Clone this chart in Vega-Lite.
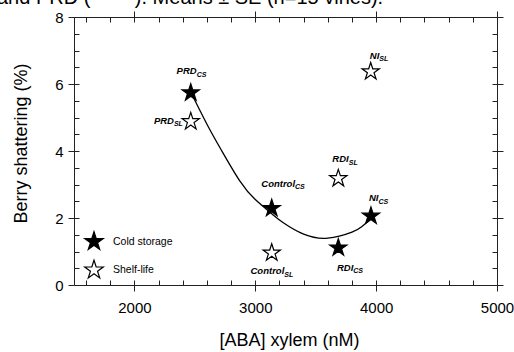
{
  "$schema": "https://vega.github.io/schema/vega-lite/v6.json",
  "width": 423,
  "height": 268,
  "autosize": {"type": "none"},
  "padding": {"left": 74, "top": 17, "right": 17, "bottom": 67},
  "background": "white",
  "title": {
    "text": "and PRD (\u00a0\u00a0\u00a0\u00a0\u00a0\u00a0\u00a0\u00a0). Means ± SE (n=15 vines).",
    "anchor": "start",
    "frame": "group",
    "offset": -14,
    "baseline": "alphabetic",
    "dx": -77,
    "fontSize": 20,
    "font": "Liberation Sans",
    "fontWeight": "normal",
    "color": "#000"
  },
  "datasets": {
    "curve": [
      {"aba": 2466, "shatter": 5.76},
      {"aba": 2600, "shatter": 4.8},
      {"aba": 2722, "shatter": 4.01},
      {"aba": 2873, "shatter": 3.1},
      {"aba": 3000, "shatter": 2.55},
      {"aba": 3136, "shatter": 2.13},
      {"aba": 3232, "shatter": 1.86},
      {"aba": 3400, "shatter": 1.52},
      {"aba": 3600, "shatter": 1.4},
      {"aba": 3800, "shatter": 1.58},
      {"aba": 3880, "shatter": 1.74},
      {"aba": 3957, "shatter": 1.97}
    ],
    "points": [
      {"treatment": "PRD", "storage": "Cold storage", "aba": 2466, "shatter": 5.74},
      {"treatment": "Control", "storage": "Cold storage", "aba": 3136, "shatter": 2.29},
      {"treatment": "RDI", "storage": "Cold storage", "aba": 3687, "shatter": 1.11},
      {"treatment": "NI", "storage": "Cold storage", "aba": 3957, "shatter": 2.06},
      {"treatment": "PRD", "storage": "Shelf-life", "aba": 2466, "shatter": 4.88},
      {"treatment": "Control", "storage": "Shelf-life", "aba": 3136, "shatter": 0.96},
      {"treatment": "RDI", "storage": "Shelf-life", "aba": 3687, "shatter": 3.18},
      {"treatment": "NI", "storage": "Shelf-life", "aba": 3955, "shatter": 6.37}
    ],
    "labels": [
      {"name": "PRD", "sub": "CS", "lx": 2515, "ly": 6.29},
      {"name": "PRD", "sub": "SL", "lx": 2327, "ly": 4.81},
      {"name": "NI", "sub": "SL", "lx": 4026, "ly": 6.75},
      {"name": "RDI", "sub": "SL", "lx": 3773, "ly": 3.67},
      {"name": "NI", "sub": "CS", "lx": 4019, "ly": 2.5},
      {"name": "Control", "sub": "CS", "lx": 3329, "ly": 2.93},
      {"name": "Control", "sub": "SL", "lx": 3240, "ly": 0.32},
      {"name": "RDI", "sub": "CS", "lx": 3811, "ly": 0.43}
    ]
  },
  "resolve": {"axis": {"x": "independent", "y": "independent"}},
  "layer": [
    {
      "data": {"name": "curve"},
      "mark": {"type": "line", "color": "#000", "strokeWidth": 1.3, "interpolate": "natural"},
      "encoding": {
        "x": {
          "field": "aba", "type": "quantitative",
          "scale": {"domain": [1500, 5000], "nice": false, "zero": false},
          "axis": {
            "orient": "bottom", "values": [2000, 3000, 4000, 5000], "format": "d",
            "tickSize": 6, "labelPadding": 9, "labelFlush": false,
            "title": "[ABA] xylem (nM)", "titleX": 215, "titleY": 60,
            "titleBaseline": "alphabetic", "titleAlign": "center", "titleAnchor": null
          }
        },
        "y": {
          "field": "shatter", "type": "quantitative",
          "scale": {"domain": [0, 8], "nice": false, "zero": false},
          "axis": {
            "orient": "left", "values": [0, 2, 4, 6, 8], "format": "d",
            "tickSize": 6, "labelPadding": 5, "labelFlush": false,
            "title": "Berry shattering (%)", "titleX": -48, "titleY": 126,
            "titleAngle": 270, "titleBaseline": "alphabetic", "titleAlign": "center", "titleAnchor": null
          }
        }
      }
    },
    {
      "data": {"name": "points"},
      "mark": {
        "type": "point",
        "shape": "M0,-1L0.2245,-0.309L0.9511,-0.309L0.3633,0.118L0.5878,0.809L0,0.382L-0.5878,0.809L-0.3633,0.118L-0.9511,-0.309L-0.2245,-0.309Z",
        "size": 330, "filled": true, "stroke": "#000", "strokeWidth": 1.2, "opacity": 1
      },
      "encoding": {
        "x": {
          "field": "aba", "type": "quantitative",
          "axis": {
            "orient": "bottom", "values": [1600, 1800, 2000, 2200, 2400, 2600, 2800, 3000, 3200, 3400, 3600, 3800, 4000, 4200, 4400, 4600, 4800, 5000],
            "tickSize": -5, "labels": false, "title": null
          }
        },
        "y": {
          "field": "shatter", "type": "quantitative",
          "axis": {
            "orient": "left", "values": [0.5, 1, 1.5, 2, 2.5, 3, 3.5, 4, 4.5, 5, 5.5, 6, 6.5, 7, 7.5, 8],
            "tickSize": -5, "labels": false, "title": null
          }
        },
        "fill": {
          "field": "storage", "type": "nominal",
          "scale": {"domain": ["Cold storage", "Shelf-life"], "range": ["#000", "#fff"]},
          "legend": {
            "orient": "none", "legendX": 9.5, "legendY": 214, "title": null,
            "symbolType": "M0,-1L0.2245,-0.309L0.9511,-0.309L0.3633,0.118L0.5878,0.809L0,0.382L-0.5878,0.809L-0.3633,0.118L-0.9511,-0.309L-0.2245,-0.309Z",
            "symbolSize": 380, "symbolStrokeColor": "#000", "symbolStrokeWidth": 1.2, "symbolOpacity": 1,
            "labelFont": "Liberation Sans", "labelFontSize": 10.5, "labelColor": "#000",
            "labelOffset": 8.5, "rowPadding": 5.5, "padding": 0
          }
        }
      }
    },
    {
      "data": {"name": "labels"},
      "mark": {"type": "text", "align": "right", "baseline": "alphabetic", "font": "Liberation Sans", "fontSize": 9.5, "fontWeight": "bold", "fontStyle": "italic", "color": "#000"},
      "encoding": {
        "x": {
          "field": "lx", "type": "quantitative",
          "axis": {
            "orient": "top", "values": [1600, 1800, 2000, 2200, 2400, 2600, 2800, 3000, 3200, 3400, 3600, 3800, 4000, 4200, 4400, 4600, 4800, 5000],
            "tickSize": -5, "labels": false, "title": null
          }
        },
        "y": {
          "field": "ly", "type": "quantitative",
          "axis": {
            "orient": "right", "values": [0.5, 1, 1.5, 2, 2.5, 3, 3.5, 4, 4.5, 5, 5.5, 6, 6.5, 7, 7.5, 8],
            "tickSize": -5, "labels": false, "title": null
          }
        },
        "text": {"field": "name"}
      }
    },
    {
      "data": {"name": "labels"},
      "mark": {"type": "text", "align": "left", "baseline": "alphabetic", "dy": 2.5, "font": "Liberation Sans", "fontSize": 7, "fontWeight": "bold", "fontStyle": "italic", "color": "#000"},
      "encoding": {
        "x": {
          "field": "lx", "type": "quantitative",
          "axis": {"orient": "top", "values": [2000, 3000, 4000, 5000], "tickSize": 6, "labels": false, "title": null}
        },
        "y": {
          "field": "ly", "type": "quantitative",
          "axis": {"orient": "right", "values": [0, 2, 4, 6, 8], "tickSize": 6, "labels": false, "title": null}
        },
        "text": {"field": "sub"}
      }
    }
  ],
  "config": {
    "view": {"stroke": "#222", "strokeWidth": 1},
    "axis": {
      "domain": false, "grid": false, "ticks": true,
      "tickColor": "#222", "tickWidth": 1,
      "labelFont": "Liberation Sans", "labelFontSize": 15, "labelColor": "#000",
      "titleFont": "Liberation Sans", "titleFontSize": 18, "titleFontWeight": "normal", "titleColor": "#000"
    }
  }
}
